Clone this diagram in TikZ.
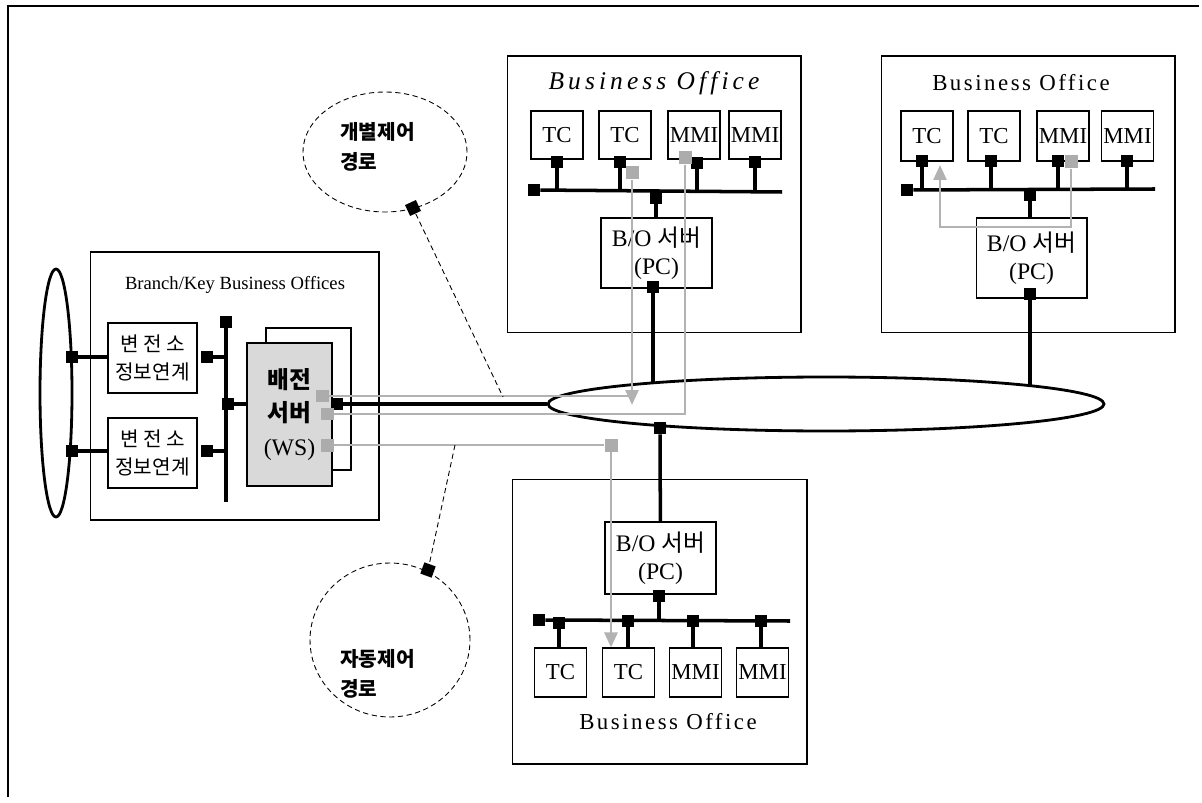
\documentclass[tikz,border=0pt]{standalone}
\usepackage{fontspec}
\setmainfont{Liberation Serif}
\newfontfamily\krfont{Noto Sans CJK KR}
\newfontfamily\spacedfont[LetterSpace=11]{Liberation Serif}
\newfontfamily\spaceditfont[LetterSpace=16]{Liberation Serif Italic}
\usepackage{tikz}
\usetikzlibrary{arrows.meta,positioning,shapes.geometric}

\begin{document}
\begin{tikzpicture}[x=0.02cm, y=-0.02cm,
      every node/.style={inner sep=0pt},
      office/.style={draw, line width=0.6pt},
      dev/.style={draw, line width=0.6pt, minimum width=1.04cm,
                  minimum height=0.96cm, font=\fontsize{13}{15}\selectfont},
      srv/.style={draw, line width=0.6pt, minimum width=2.22cm,
                  minimum height=1.4cm, align=center,
                  font=\fontsize{13.5}{16}\selectfont},
      subbox/.style={draw, line width=0.6pt, minimum width=1.78cm,
                  minimum height=1.4cm, align=center,
                  font=\krfont\fontsize{11.5}{16}\selectfont},
      sq/.style={fill=black, minimum size=0.24cm},
      gsq/.style={fill=gray!65, minimum size=0.26cm},
      bus/.style={line width=2pt},
      gline/.style={draw=gray!60, line width=1.5pt},
      garr/.style={gline, -{Triangle[length=0.3cm, width=0.26cm]}},
      cloud/.style={draw, densely dashed, line width=0.5pt, ellipse},
      ttl/.style={font=\spacedfont\fontsize{13}{15}\selectfont},
      kortxt/.style={font=\krfont\bfseries\fontsize{11.5}{17}\selectfont, align=left, anchor=west}
    ]
    \useasboundingbox (0,0) rectangle (1202,803);
    \draw[line width=0.8pt] (8,797) -- (8,6) -- (1199,6);

    % Branch/Key offices
    \node[office, minimum width=5.78cm, minimum height=5.36cm] (branch) at (234.5,386) {};
    \node[font=\fontsize{10.6}{12}\selectfont] (brtitle) at (235,285) {Branch/Key Business Offices};
    \node[draw, line width=1.6pt, ellipse, minimum width=0.64cm, minimum height=4.96cm] (lring) at (56,393) {};
    \node[subbox] (sub1) at (152.5,358) {변 전 소\\정보연계};
    \node[subbox] (sub2) at (152.5,453) {변 전 소\\정보연계};
    \node[sq] (rq1) at (72,357) {};
    \node[sq] (rq2) at (72,451) {};
    \node[sq] (s1r) at (207,357) {};
    \node[sq] (s2r) at (207,451) {};
    \node[sq] (lbtop) at (226,322) {};
    \coordinate (lbbot) at (226,502);
    \node[sq] (bq) at (228,404) {};

    \draw[bus] (rq1) -- (sub1.west |- rq1);
    \draw[bus] (rq2) -- (sub2.west |- rq2);
    \draw[bus] (s1r) -- (s1r -| lbbot);
    \draw[bus] (s2r) -- (s2r -| lbbot);
    \draw[bus] (lbtop) -- (lbbot);

    % WS server
    \node[office, minimum width=1.7cm, minimum height=2.84cm] (wsback) at (308.5,399) {};
    \node[draw, line width=0.6pt, fill=gray!30, minimum width=1.7cm, minimum height=2.86cm,
          align=center, font=\fontsize{13.5}{19}\selectfont] (ws) at (289.5,414.5)
          {{\krfont\bfseries 배전}\\{\krfont\bfseries 서버}\\(WS)};
    \draw[bus] (bq) -- (bq -| ws.west);
    \node[gsq] (wg1) at (322,396) {};
    \node[sq]  (wk)  at (337,404) {};
    \node[gsq] (wg2) at (327,414) {};
    \node[gsq] (wg3) at (327,445) {};

    % backbone ring
    \node[draw, line width=1.6pt, ellipse, minimum width=11.12cm, minimum height=1.08cm] (mring) at (826,404) {};
    \draw[bus] (wk) -- (mring.west);

    % Business Office (top)
    \node[office, minimum width=5.88cm, minimum height=5.54cm] (boA) at (654,194.5) {};
    \node[font=\spaceditfont\fontsize{14.5}{16}\selectfont] (boAtitle) at (654,83) {Business Office};
    \node[dev] (a1) at (557,135) {TC};
    \node[dev] (a2) at (625,135) {TC};
    \node[dev] (a3) at (694,135) {MMI};
    \node[dev] (a4) at (755,135) {MMI};
    \node[sq] (a1p) at (557,162) {};
    \node[sq] (a2p) at (620,162) {};
    \node[sq] (a3p) at (697,163) {};
    \node[sq] (a4p) at (755,162) {};
    \node[sq] (abend) at (534,190) {};
    \coordinate (abusR) at (782,192);
    \draw[bus] (abend) -- (abusR);
    \foreach \p in {a1p,a2p,a3p,a4p}
      \draw[bus] (\p) -- (\p |- abusR);
    \node[sq] (asq) at (656,198) {};
    \node[srv] (asrv) at (656.5,253) {B/O {\krfont 서버}\\(PC)};
    \draw[bus] (asq) -- (asq |- asrv.north);
    \node[sq] (asrvp) at (653,287) {};
    \coordinate (ringA) at (653,383);
    \draw[bus] (asrvp) -- (ringA);
    \node[gsq] (a2g) at (632,173) {};
    \node[gsq] (a3g) at (685,158) {};

    % Business Office (right)
    \node[office, minimum width=5.88cm, minimum height=5.54cm] (boB) at (1028,194.5) {};
    \node[ttl] (boBtitle) at (1021,83) {Business Office};
    \node[dev, minimum height=1cm] (b1) at (927,136) {TC};
    \node[dev, minimum height=1cm] (b2) at (994,136) {TC};
    \node[dev, minimum height=1cm] (b3) at (1063,136) {MMI};
    \node[dev, minimum height=1cm] (b4) at (1127.5,136) {MMI};
    \node[sq] (b1p) at (922,161) {};
    \node[sq] (b2p) at (991,161) {};
    \node[sq] (b3p) at (1058,161) {};
    \node[sq] (b4p) at (1127,161) {};
    \node[sq] (bbend) at (907,190) {};
    \coordinate (bbusR) at (1155,189);
    \draw[bus] (bbend) -- (bbusR);
    \foreach \p in {b1p,b2p,b3p,b4p}
      \draw[bus] (\p) -- (\p |- bbusR);
    \node[sq] (bsq) at (1030,195) {};
    \node[srv, minimum height=1.6cm] (bsrv) at (1031.5,258) {B/O {\krfont 서버}\\(PC)};
    \draw[bus] (bsq) -- (bsq |- bsrv.north);
    \node[sq] (bsrvp) at (1030,294) {};
    \coordinate (ringB) at (1030,385);
    \draw[bus] (bsrvp) -- (ringB);
    \node[gsq] (b3g) at (1071,162) {};
    \coordinate (b1tip) at (940,165);

    % Business Office (bottom)
    \node[office, minimum width=5.9cm, minimum height=5.7cm] (boC) at (659.5,621.5) {};
    \node[ttl] (boCtitle) at (668,722) {Business Office};
    \node[sq] (ringC) at (660,428) {};
    \node[srv, minimum height=1.44cm] (csrv) at (660.5,558) {B/O {\krfont 서버}\\(PC)};
    \draw[bus] (ringC) -- (csrv);
    \node[sq] (csrvp) at (659,596) {};
    \node[sq] (cbend) at (539,620) {};
    \coordinate (cbusR) at (790,621);
    \draw[bus] (cbend) -- (cbusR);
    \draw[bus] (csrvp) -- (csrvp |- cbusR);
    \node[dev, minimum height=0.98cm] (c1) at (560.5,672.5) {TC};
    \node[dev, minimum height=0.98cm] (c2) at (628.5,672.5) {TC};
    \node[dev, minimum height=0.98cm] (c3) at (695.5,672.5) {MMI};
    \node[dev, minimum height=0.98cm] (c4) at (762.5,672.5) {MMI};
    \node[sq] (c1p) at (559,623) {};
    \node[sq] (c2p) at (628,621) {};
    \node[sq] (c3p) at (693,621) {};
    \node[sq] (c4p) at (761,621) {};
    \draw[bus] (c1p) -- (c1p |- c1.north);
    \draw[bus] (c2p) -- (c2p |- c2.north);
    \draw[bus] (c3p) -- (c3p |- c3.north);
    \draw[bus] (c4p) -- (c4p |- c4.north);
    \node[gsq] (c2g) at (611,445) {};

    % control paths
    \coordinate (p1tip) at (632,405);
    \draw[gline] (wg1) -- (wg1 -| a2g);
    \draw[garr] (a2g) -- (p1tip);
    \draw[gline] (a3g) |- (wg2);
    \draw[gline] (wg3) -- (c2g);
    \draw[garr] (c2g) -- (c2g |- c2.north);
    \draw[garr] (b3g) -- ++(0,65) -| (b1tip);

    % path labels
    \node[cloud, minimum width=3.28cm, minimum height=2.4cm] (indiv) at (385,152) {};
    \node[kortxt] (indtxt) at (340,147) {개별제어\\경로};
    \node[sq, rotate=25] (indsq) at (413,208) {};
    \coordinate (indft) at (503,397);
    \draw[densely dashed, line width=0.5pt] (indsq) -- (indft);

    \node[cloud, minimum width=3.2cm, minimum height=3.08cm] (auto) at (390,640) {};
    \node[kortxt] (autotxt) at (340,674) {자동제어\\경로};
    \node[sq, rotate=-20] (autosq) at (428,570) {};
    \coordinate (autoft) at (455,445);
    \draw[densely dashed, line width=0.5pt] (autoft) -- (autosq);
  \end{tikzpicture}
\end{document}
